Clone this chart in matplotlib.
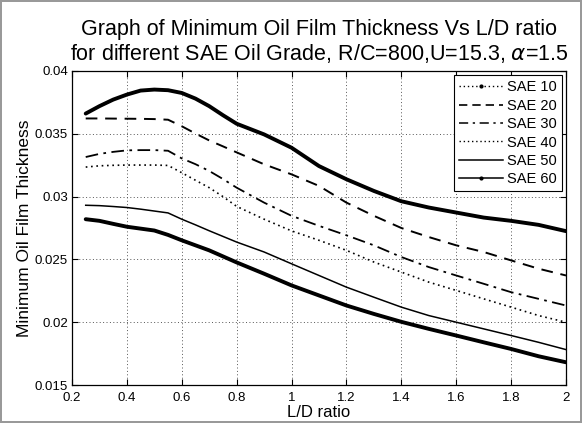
import matplotlib
matplotlib.use('Agg')
import matplotlib.pyplot as plt
from matplotlib.lines import Line2D
from matplotlib.ticker import FormatStrFormatter

plt.rcParams['font.family'] = ['Liberation Sans', 'DejaVu Sans']

# ----------------------------- Data -----------------------------

ld = [0.25, 0.3, 0.35, 0.4, 0.45, 0.5, 0.55, 0.6, 0.65, 0.7, 0.75, 0.8, 0.9,
      1.0, 1.1, 1.2, 1.3, 1.4, 1.5, 1.6, 1.7, 1.8, 1.9, 2.0]

sae10 = [0.03661, 0.0372, 0.03772, 0.03812, 0.03844, 0.03852, 0.03847, 0.03825, 0.0378, 0.0372,
         0.03648, 0.0358, 0.03495, 0.03389, 0.03243, 0.03138, 0.03045, 0.02963, 0.02913,
         0.02873, 0.02833, 0.02807, 0.02775, 0.02725]
sae20 = [0.03622, 0.03622, 0.03621, 0.0362, 0.03619, 0.03617, 0.03612, 0.0356, 0.03502, 0.03447,
         0.034, 0.03352, 0.03257, 0.03177, 0.03085, 0.02952, 0.02847, 0.0275, 0.02678,
         0.02612, 0.02559, 0.02492, 0.02426, 0.02372]
sae30 = [0.03315, 0.0334, 0.03356, 0.03368, 0.0337, 0.0337, 0.03365, 0.03304, 0.03258, 0.03204,
         0.0314, 0.03071, 0.02952, 0.02847, 0.02767, 0.02692, 0.02612, 0.02519, 0.02439,
         0.02372, 0.02306, 0.02239, 0.02186, 0.02133]
sae40 = [0.03235, 0.03245, 0.03249, 0.03251, 0.03251, 0.03251, 0.03248, 0.0319, 0.0313, 0.03071,
         0.03, 0.02922, 0.0282, 0.02727, 0.02652, 0.02572, 0.02479, 0.02399, 0.02319,
         0.02253, 0.02186, 0.0212, 0.02053, 0.02]
sae50 = [0.02931, 0.02928, 0.02921, 0.02913, 0.029, 0.02885, 0.0287, 0.0282, 0.02775, 0.02728,
         0.02683, 0.02638, 0.02559, 0.02465, 0.02372, 0.02279, 0.02199, 0.0212, 0.02053,
         0.02, 0.01947, 0.01894, 0.0184, 0.01782]
sae60 = [0.0282, 0.02807, 0.02783, 0.0276, 0.02745, 0.0273, 0.02695, 0.02652, 0.02612, 0.02572,
         0.02524, 0.02476, 0.02386, 0.02293, 0.02213, 0.02133, 0.02066, 0.02003, 0.01947,
         0.01894, 0.0184, 0.01787, 0.01729, 0.01681]

labels = ['SAE 10', 'SAE 20', 'SAE 30', 'SAE 40', 'SAE 50', 'SAE 60']

# ----------------------------- Plot -----------------------------

fig = plt.figure(figsize=(5.82, 4.23), dpi=100)
fig.patch.set_edgecolor('#999999')
fig.patch.set_linewidth(1.5)
ax = fig.add_axes([0.1237, 0.0898, 0.8488, 0.7424])

ax.plot(ld, sae10, color='k', lw=2.8, solid_capstyle='round')
ax.plot(ld, sae20, color='k', lw=1.4, ls=(0, (6, 4)))
ax.plot(ld, sae30, color='k', lw=1.3, ls=(0, (7, 3, 1.5, 3)))
ax.plot(ld, sae40, color='k', lw=1.2, ls=(0, (1, 2.2)))
ax.plot(ld, sae50, color='k', lw=1.1)
ax.plot(ld, sae60, color='k', lw=2.8, solid_capstyle='round')

ax.set_xlim(0.2, 2)
ax.set_ylim(0.015, 0.04)
ax.set_xticks([0.2, 0.4, 0.6, 0.8, 1.0, 1.2, 1.4, 1.6, 1.8, 2.0])
ax.set_yticks([0.015, 0.02, 0.025, 0.03, 0.035, 0.04])
ax.xaxis.set_major_formatter(FormatStrFormatter('%g'))
ax.yaxis.set_major_formatter(FormatStrFormatter('%g'))
ax.tick_params(direction='in', top=True, right=True, labelsize=9.5, length=4)
ax.tick_params(axis='x', pad=5)
ax.tick_params(axis='y', pad=3)
ax.grid(True, ls=(0, (1, 2.5)), color='#555555', lw=0.7)
for s in ax.spines.values():
    s.set_linewidth(0.9)

ax.set_xlabel('L/D ratio', fontsize=12, labelpad=0.5)
ax.set_ylabel('Minimum Oil Film Thickness', fontsize=12.5, labelpad=2)
ax.set_title('Graph of Minimum Oil Film Thickness Vs L/D ratio\n'
             r'for different SAE Oil Grade, R/C=800,U=15.3, $\alpha$=1.5',
             fontsize=15.5, pad=8, linespacing=1.1)

# legend handles show the style the original legend uses
handles = [
    Line2D([], [], color='k', lw=1, ls=(0, (1, 2)), marker='.', markersize=4, markevery=[1]),
    Line2D([], [], color='k', lw=1.2, ls=(0, (5, 3))),
    Line2D([], [], color='k', lw=1.1, ls=(0, (6, 3, 1.5, 3))),
    Line2D([], [], color='k', lw=1, ls=(0, (1, 2))),
    Line2D([], [], color='k', lw=1.1),
    Line2D([], [], color='k', lw=1.1, marker='.', markersize=4, markevery=[1]),
]
for h in handles:
    h.set_data([0, 0.5, 1], [0, 0, 0])
leg = ax.legend(handles, labels, loc='upper right', fontsize=10.5, frameon=True, fancybox=False,
                edgecolor='k', framealpha=1, handlelength=3.0, handletextpad=0.25,
                borderaxespad=0.3, labelspacing=0.3, borderpad=0.35)
leg.get_frame().set_linewidth(0.8)

fig.savefig('out.png', dpi=100)
